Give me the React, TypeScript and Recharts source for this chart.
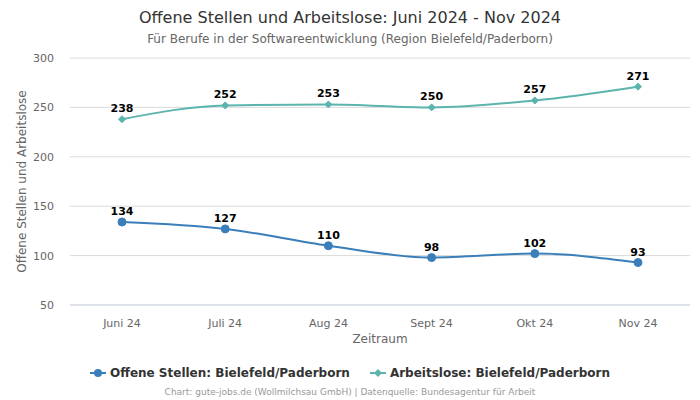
import React from "react";
import { LineChart, Line, XAxis, YAxis, CartesianGrid, LabelList } from "recharts";

const categories = ["Juni 24", "Juli 24", "Aug 24", "Sept 24", "Okt 24", "Nov 24"];
const offeneStellen = [134, 127, 110, 98, 102, 93];
const arbeitslose = [238, 252, 253, 250, 257, 271];
const yTicks = [50, 100, 150, 200, 250, 300];

const BLUE = "#3b7fba";
const TEAL = "#5cb4ae";
const FONT = "DejaVu Sans, Verdana, sans-serif";

const data = categories.map((c, i) => ({ name: c, offen: offeneStellen[i], arb: arbeitslose[i] }));

const Diamond = (props: any) => {
  const { cx, cy } = props;
  if (cx == null || cy == null) return null;
  const r = 3.5;
  return <path d={`M${cx},${cy - r}L${cx + r},${cy}L${cx},${cy + r}L${cx - r},${cy}Z`} fill={TEAL} stroke={TEAL} />;
};

const Circle = (props: any) => {
  const { cx, cy } = props;
  if (cx == null || cy == null) return null;
  return <circle cx={cx} cy={cy} r={4} fill={BLUE} stroke={BLUE} />;
};

const LegendContent = () => (
  <div style={{ display: "flex", justifyContent: "center", gap: 20, fontFamily: FONT, fontSize: 12, fontWeight: "bold", color: "#333" }}>
    <span style={{ display: "flex", alignItems: "center" }}>
      <svg width={16} height={10} style={{ marginRight: 4 }}>
        <line x1={0} y1={5} x2={16} y2={5} stroke={BLUE} strokeWidth={2} />
        <circle cx={8} cy={5} r={4} fill={BLUE} />
      </svg>
      Offene Stellen: Bielefeld/Paderborn
    </span>
    <span style={{ display: "flex", alignItems: "center" }}>
      <svg width={16} height={10} style={{ marginRight: 4 }}>
        <line x1={0} y1={5} x2={16} y2={5} stroke={TEAL} strokeWidth={2} />
        <path d="M8,1L12,5L8,9L4,5Z" fill={TEAL} />
      </svg>
      Arbeitslose: Bielefeld/Paderborn
    </span>
  </div>
);

export default function App() {
  return (
    <div style={{ position: "absolute", left: 0, top: 0, width: 700, height: 400, background: "#fff", fontFamily: FONT }}>
      <div style={{ position: "absolute", top: 8, width: 700, textAlign: "center", fontSize: 16, color: "#333" }}>
        Offene Stellen und Arbeitslose: Juni 2024 - Nov 2024
      </div>
      <div style={{ position: "absolute", top: 32, width: 700, textAlign: "center", fontSize: 12, color: "#666" }}>
        Für Berufe in der Softwareentwicklung (Region Bielefeld/Paderborn)
      </div>
      <div style={{ position: "absolute", left: 0, top: 0 }}>
        <LineChart width={700} height={400} data={data} margin={{ top: 58, right: 10, bottom: 0, left: 0 }}>
          <CartesianGrid vertical={false} stroke="#dadada" />
          <XAxis
            dataKey="name"
            height={95}
            padding={{ left: 52, right: 52 }}
            tickLine={false}
            axisLine={{ stroke: "#ccd6eb" }}
            tick={{ fontSize: 11, fill: "#666", fontFamily: FONT }}
            tickMargin={8}
            label={{ value: "Zeitraum", position: "insideTop", offset: 29, fontSize: 12, fill: "#666", fontFamily: FONT }}
          />
          <YAxis
            width={70}
            domain={[50, 300]}
            ticks={yTicks}
            tickLine={false}
            axisLine={false}
            tick={{ fontSize: 11, fill: "#666", fontFamily: FONT }}
            tickMargin={10}
            label={{ value: "Offene Stellen und Arbeitslose", angle: -90, position: "insideLeft", offset: 22, style: { textAnchor: "middle" }, fontSize: 12, fill: "#666", fontFamily: FONT }}
          />
          <Line type="monotone" dataKey="offen" stroke={BLUE} strokeWidth={2} dot={<Circle />} activeDot={false} isAnimationActive={false}>
            <LabelList dataKey="offen" position="top" offset={7} style={{ fontSize: 11, fontWeight: "bold", fill: "#000", fontFamily: FONT }} />
          </Line>
          <Line type="monotone" dataKey="arb" stroke={TEAL} strokeWidth={2} dot={<Diamond />} activeDot={false} isAnimationActive={false}>
            <LabelList dataKey="arb" position="top" offset={7} style={{ fontSize: 11, fontWeight: "bold", fill: "#000", fontFamily: FONT }} />
          </Line>
        </LineChart>
      </div>
      <div style={{ position: "absolute", top: 366, width: 700 }}>
        <LegendContent />
      </div>
      <div style={{ position: "absolute", top: 387, width: 700, textAlign: "center", fontSize: 9, color: "#999" }}>
        Chart: gute-jobs.de (Wollmilchsau GmbH) | Datenquelle: Bundesagentur für Arbeit
      </div>
    </div>
  );
}
